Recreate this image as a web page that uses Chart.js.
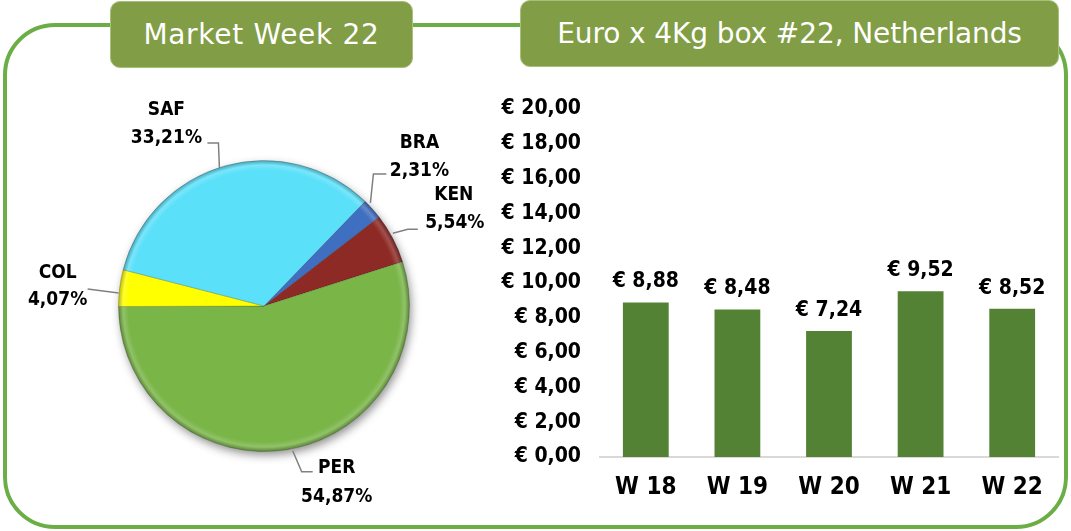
<!DOCTYPE html>
<html>
<head>
<meta charset="utf-8">
<script src="https://cdn.jsdelivr.net/npm/chart.js@4.4.0/dist/chart.umd.min.js"></script>
<style>
  html, body { margin: 0; padding: 0; background: #fff; }
  body { width: 1071px; height: 531px; position: relative; overflow: hidden; font-family: "DejaVu Sans", sans-serif; }
  .frame { position: absolute; left: 3px; top: 23px; width: 1065px; height: 506px; box-sizing: border-box;
           border: 4px solid #6aae45; border-radius: 52px; }
  .layer { position: absolute; left: 0; top: 0; width: 1071px; height: 531px; }
  .tab { position: absolute; box-sizing: border-box; background: #819d45; border: 1px solid #a9bf7c; border-radius: 10px;
         color: #fff; font-size: 28px; text-align: center; white-space: nowrap; }
</style>
</head>
<body>
<div class="frame"></div>
<div class="layer"><canvas id="pie"></canvas></div>
<div class="layer"><canvas id="bars"></canvas></div>
<div class="tab" style="left:110px;top:1px;width:303px;height:67px;line-height:65px;letter-spacing:0.7px;">Market Week 22</div>
<div class="tab" style="left:520px;top:0px;width:539px;height:67px;line-height:65px;letter-spacing:-0.1px;">Euro x 4Kg box #22, Netherlands</div>

<script>
// ===== DATA =====
const origins = ["BRA", "KEN", "PER", "COL", "SAF"];
const shares = [2.31, 5.54, 54.87, 4.07, 33.21];

const weeks = ["W 18", "W 19", "W 20", "W 21", "W 22"];
const prices = [8.88, 8.48, 7.24, 9.52, 8.52];
const priceMin = 0, priceMax = 20, priceStep = 2;

// ===== STYLE =====
const sliceColors = ["#3f6fc1", "#8e2a26", "#79b547", "#ffff00", "#5be0fa"];
const barColor = "#548235";
const boldFont = "'DejaVu Sans Condensed', 'DejaVu Sans', sans-serif";

// label placement relative to the slice edge point (leader points + name/percent centres)
const labelLayout = {
  BRA: { line: [[-2, -6], [1, -35], [14, -35]], name: [47, -68], pct: [47, -40] },
  KEN: { line: [[0, -5], [15, -9], [25, -9]], name: [61, -45], pct: [62, -17] },
  PER: { line: [[6, 1], [15, 22], [26, 22]], name: [50, 16], pct: [50, 45] },
  COL: { line: [[-1, 5], [-32, 1]], name: [-62, -17], pct: [-62, 10] },
  SAF: { line: [[-5, 2], [-6, -23], [-17, -23]], name: [-58, -58], pct: [-58, -30] }
};

Chart.defaults.font.family = boldFont;
Chart.defaults.color = "#000";

const fmt = v => v.toFixed(2).replace(".", ",");

function mix(hex, target, t) {
  const n = parseInt(hex.slice(1), 16);
  const c = [(n >> 16) & 255, (n >> 8) & 255, n & 255].map(v => Math.round(v + (target - v) * t));
  return `rgb(${c[0]},${c[1]},${c[2]})`;
}

// ===== PIE =====
const pieShadow = {
  id: "pieShadow",
  beforeDatasetsDraw(chart) {
    const a = chart.chartArea, ctx = chart.ctx;
    const cx = (a.left + a.right) / 2, cy = (a.top + a.bottom) / 2, r = Math.min(a.width, a.height) / 2;
    ctx.save();
    ctx.shadowColor = "rgba(0,0,0,0.45)";
    ctx.shadowBlur = 10;
    ctx.shadowOffsetX = 2;
    ctx.shadowOffsetY = 4;
    ctx.fillStyle = "#fff";
    ctx.beginPath();
    ctx.arc(cx, cy, r - 1, 0, Math.PI * 2);
    ctx.fill();
    ctx.restore();
  }
};

const pieLabels = {
  id: "pieLabels",
  afterDatasetsDraw(chart) {
    const ctx = chart.ctx;
    chart.getDatasetMeta(0).data.forEach((arc, i) => {
      const p = arc.getProps(["x", "y", "startAngle", "endAngle", "outerRadius"], true);
      const mid = (p.startAngle + p.endAngle) / 2;
      const ex = p.x + Math.cos(mid) * p.outerRadius;
      const ey = p.y + Math.sin(mid) * p.outerRadius;
      const lay = labelLayout[origins[i]];
      ctx.save();
      ctx.strokeStyle = "#808080";
      ctx.lineWidth = 1.5;
      ctx.beginPath();
      lay.line.forEach((pt, k) => k ? ctx.lineTo(ex + pt[0], ey + pt[1]) : ctx.moveTo(ex + pt[0], ey + pt[1]));
      ctx.stroke();
      ctx.fillStyle = "#000";
      ctx.font = "bold 19px " + boldFont;
      ctx.textAlign = "center";
      ctx.textBaseline = "alphabetic";
      ctx.fillText(origins[i], ex + lay.name[0], ey + lay.name[1] + 7);
      ctx.fillText(fmt(shares[i]) + "%", ex + lay.pct[0], ey + lay.pct[1] + 7);
      ctx.restore();
    });
  }
};

new Chart(document.getElementById("pie"), {
  type: "pie",
  data: {
    labels: origins,
    datasets: [{
      data: shares,
      backgroundColor: (c) => {
        const chart = c.chart, a = chart.chartArea;
        const base = sliceColors[c.dataIndex];
        if (!a) return base;
        const cx = (a.left + a.right) / 2, cy = (a.top + a.bottom) / 2, r = Math.min(a.width, a.height) / 2;
        const g = chart.ctx.createRadialGradient(cx, cy, 0, cx, cy, r);
        g.addColorStop(0, base);
        g.addColorStop(0.93, base);
        g.addColorStop(0.965, mix(base, 255, 0.18));
        g.addColorStop(1, mix(base, 0, 0.3));
        return g;
      },
      borderColor: "rgba(0,0,0,0.18)",
      borderWidth: 1
    }]
  },
  options: {
    responsive: true,
    maintainAspectRatio: false,
    animation: false,
    rotation: 44,
    layout: { padding: { left: 118, right: 661, top: 160, bottom: 79 } },
    plugins: { legend: { display: false }, tooltip: { enabled: false } }
  },
  plugins: [pieShadow, pieLabels]
});

// ===== BARS =====
const barValues = {
  id: "barValues",
  afterDatasetsDraw(chart) {
    const ctx = chart.ctx;
    ctx.save();
    ctx.fillStyle = "#000";
    ctx.font = "bold 21px " + boldFont;
    ctx.textAlign = "center";
    ctx.textBaseline = "alphabetic";
    chart.getDatasetMeta(0).data.forEach((bar, i) => {
      ctx.fillText("€ " + fmt(prices[i]), bar.x, bar.y - 15);
    });
    ctx.restore();
  }
};

new Chart(document.getElementById("bars"), {
  type: "bar",
  data: {
    labels: weeks,
    datasets: [{
      data: prices,
      backgroundColor: barColor,
      barPercentage: 0.5,
      categoryPercentage: 1
    }]
  },
  options: {
    responsive: true,
    maintainAspectRatio: false,
    animation: false,
    layout: { padding: { left: 490, right: 13, top: 109, bottom: 24 } },
    plugins: { legend: { display: false }, tooltip: { enabled: false } },
    scales: {
      y: {
        min: priceMin,
        max: priceMax,
        ticks: { stepSize: priceStep, padding: 19, font: { size: 21, weight: "bold" }, callback: v => "€ " + fmt(v) },
        grid: { display: false, drawTicks: false },
        border: { display: false },
        afterFit: s => { s.width = 110; }
      },
      x: {
        ticks: { padding: 16, font: { size: 24, weight: "bold" } },
        grid: { display: false, drawTicks: false },
        border: { display: true, color: "#d9d9d9", width: 2 },
        afterFit: s => { s.height = 50; }
      }
    }
  },
  plugins: [barValues]
});
</script>
</body>
</html>
